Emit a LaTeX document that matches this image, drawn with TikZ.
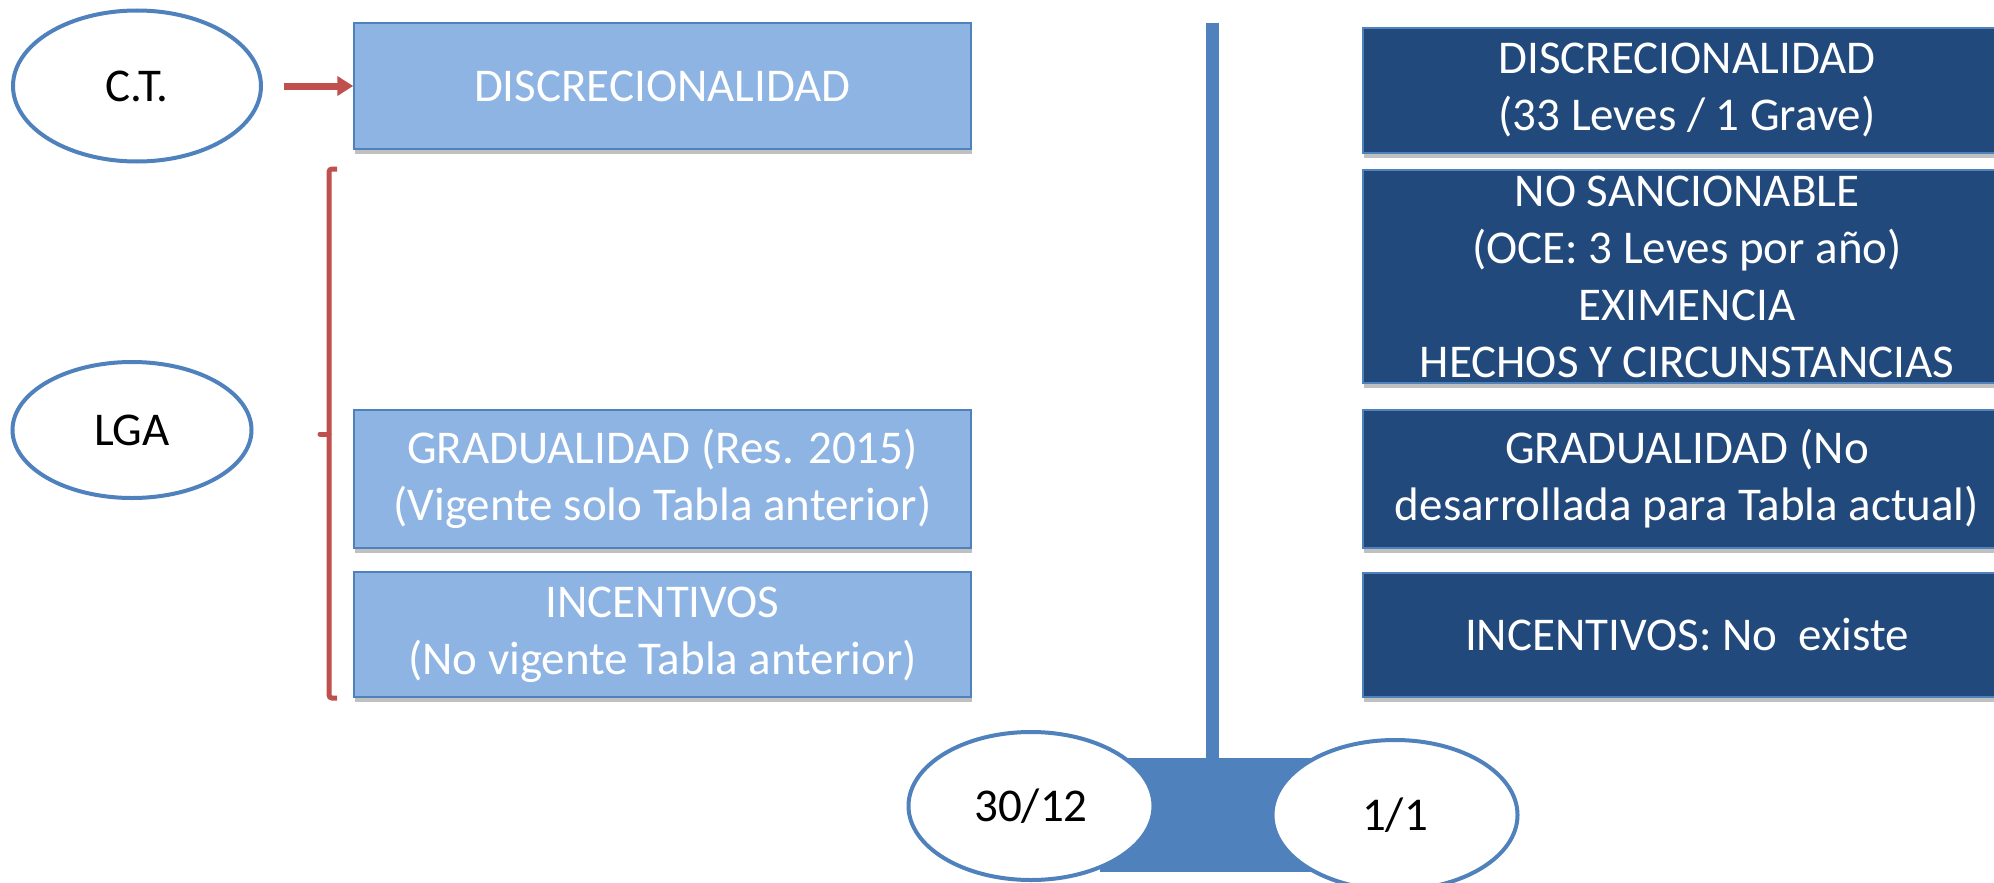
\documentclass[tikz,border=0pt]{standalone}
\usepackage{fontspec}
\setmainfont{Carlito}
\usetikzlibrary{arrows.meta,shadows,shapes.geometric}
\definecolor{lblue}{HTML}{8EB4E3}
\definecolor{dblue}{HTML}{21497C}
\definecolor{accent}{HTML}{4F81BD}
\definecolor{bred}{HTML}{C0504D}
\tikzset{
  boxshadow/.style={drop shadow={shadow xshift=1pt,shadow yshift=-5pt,opacity=0.35,fill=black!70}},
  lbox/.style={rectangle,fill=lblue,draw=accent,line width=1.5pt,text=white,align=center,inner sep=0pt,
    font=\fontsize{47}{57}\selectfont,minimum width=617pt,boxshadow},
  rbox/.style={rectangle,fill=dblue,draw=accent,line width=1.5pt,text=white,align=center,inner sep=0pt,
    font=\fontsize{47}{57}\selectfont,minimum width=648pt,boxshadow},
  oval/.style={ellipse,fill=white,draw=accent,line width=4pt,text=black,inner sep=0pt,
    font=\fontsize{47}{57}\selectfont},
  redarrow/.style={draw=bred,line width=7pt,-{Triangle[length=16pt,width=19pt]}},
  bracket/.style={draw=bred,line width=5pt,rounded corners=3pt},
}
\begin{document}
\begin{tikzpicture}[x=1pt,y=-1pt]
\useasboundingbox (0,0) rectangle (1994,883);
\fill[white] (0,0) rectangle (1994,883);

% left column
\node[oval,minimum width=248pt,minimum height=151pt] (ct) at (137,86) {C.T.};
\node[oval,minimum width=239pt,minimum height=136pt] (lga) at (132,430) {LGA};

\node[lbox,minimum height=126pt] (ld) at (662.5,86) {DISCRECIONALIDAD};
\node[lbox,minimum height=138pt] (lg) at (662.5,479) {GRADUALIDAD (Res. 2015)\\(Vigente solo Tabla anterior)};
\node[lbox,minimum height=125pt] (li) at (662.5,634.5) {INCENTIVOS\\(No vigente Tabla anterior)};

\draw[redarrow,shorten <=21pt] (ct.east) -- (ld.west);

% bracket
\draw[bracket] (337,169) -- (329,169) -- (329,698) -- (337,698);
\draw[draw=bred,line width=5pt,line cap=round] (329,434) -- (320,434);

% right column
\node[rbox,minimum height=125pt] (rd) at (1687,90.5) {DISCRECIONALIDAD\\(33 Leves / 1 Grave)};
\node[rbox,minimum height=213pt] (rn) at (1687,276.5) {NO SANCIONABLE\\(OCE: 3 Leves por año)\\EXIMENCIA\\HECHOS Y CIRCUNSTANCIAS};
\node[rbox,minimum height=138pt] (rg) at (1687,479) {GRADUALIDAD (No\\desarrollada para Tabla actual)};
\node[rbox,minimum height=124pt] (ri) at (1687,635) {INCENTIVOS: No\ \ existe};

% timeline
\node[rectangle,fill=accent,inner sep=0pt,minimum width=230pt,minimum height=114pt] (base) at (1215,815) {};
\coordinate (top) at (1212,23);
\draw[accent,line width=13pt] (top) -- (top |- base.north);
\node[oval,minimum width=245pt,minimum height=148pt] (d1) at (1031,806) {30/12};
\node[oval,minimum width=245pt,minimum height=150pt] (d2) at (1395,815) {1/1};
\end{tikzpicture}
\end{document}
